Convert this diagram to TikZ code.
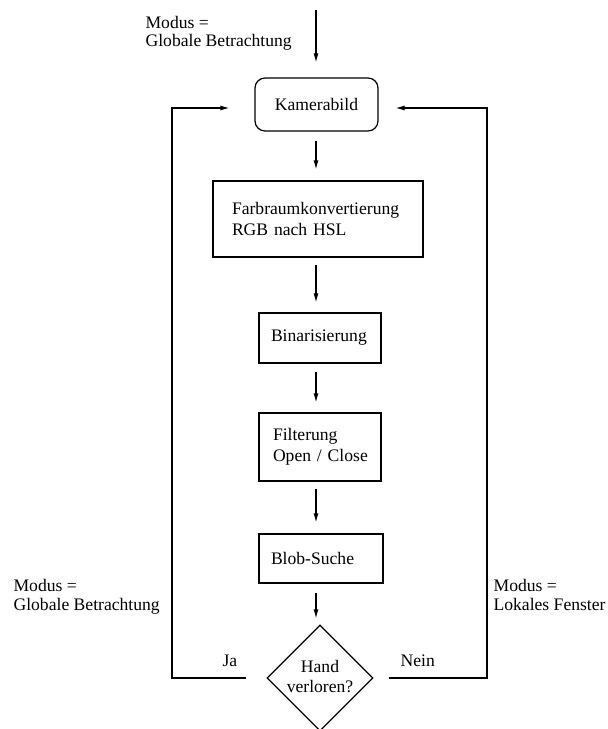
\documentclass[tikz,border=0pt]{standalone}
\usepackage{fontspec}
\setmainfont{Liberation Serif}
\usetikzlibrary{shapes.geometric,arrows.meta}
\begin{document}
\begin{tikzpicture}[x=1pt,y=-1pt,
  font=\fontsize{17.6}{21.5}\selectfont,
  line width=1.2pt,
  arr/.style={-{Latex[length=9pt,width=5pt]}},
  stage/.style={draw,rectangle,inner ysep=0pt,align=left},
  lbl/.style={inner sep=0pt,align=left,font=\fontsize{17.6}{18.5}\selectfont},
  tag/.style={inner sep=0pt,anchor=base west}]
\useasboundingbox (0,0) rectangle (608,729);

% processing chain
\coordinate (src) at (316,10);
\node[stage,rounded corners=10pt,align=center,minimum width=123pt,minimum height=53pt]
  (kam) at (316.5,104.5) {Kamerabild};
\node[stage,minimum width=210pt,minimum height=76pt,inner xsep=19pt,text width=172pt]
  (farb) at (318,219) {Farbraumkonvertierung\\RGB nach HSL};
\node[stage,minimum width=122pt,minimum height=50pt,inner xsep=12pt,text width=98pt]
  (bin) at (320,338) {Binarisierung};
\node[stage,minimum width=122pt,minimum height=68pt,inner xsep=14pt,text width=94pt]
  (filt) at (320,447) {Filterung\\\mbox{Open / Close}};
\node[stage,minimum width=124pt,minimum height=49pt,inner xsep=12pt,text width=100pt]
  (blob) at (321,558.5) {Blob-Suche};
\node[draw,diamond,aspect=1,minimum size=106pt,inner sep=0pt]
  (dia) at (320,678) {\makebox[20pt]{\fontsize{17.6}{20}\selectfont
    \begin{tabular}{@{}c@{}}Hand\\verloren?\end{tabular}}};

% arrows along the chain
\draw[arr,shorten >=15pt] (src) -- (src |- kam.north);
\draw[arr,shorten <=9pt,shorten >=11pt] (kam.south -| src) -- (farb.north -| src);
\draw[arr,shorten <=7pt,shorten >=10pt] (farb.south -| src) -- (bin.north -| src);
\draw[arr,shorten <=8pt,shorten >=10pt] (bin.south -| src) -- (filt.north -| src);
\draw[arr,shorten <=7pt,shorten >=11pt] (filt.south -| src) -- (blob.north -| src);
\draw[arr,shorten <=9pt,shorten >=6pt] (blob.south -| src) -- (dia.north -| src);

% feedback loops
\coordinate (lc) at (172,108);
\coordinate (rc) at (487,108);
\draw[arr,shorten <=20pt,shorten >=25pt] (dia.west) -| (lc) -- (lc -| kam.west);
\draw[arr,shorten <=15pt,shorten >=17pt] (dia.east) -| (rc) -- (rc -| kam.east);

% labels
\node[lbl,anchor=north west] (modtop) at (145,15.5) {Modus =\\Globale Betrachtung};
\node[lbl,anchor=north west] (modl) at (13,578.7) {Modus =\\Globale Betrachtung};
\node[lbl,anchor=north west] (modr) at (493,578.7) {Modus =\\Lokales Fenster};
\node[tag] (ja) at (222,666.7) {Ja};
\node[tag] (nein) at (400,666.7) {Nein};
\end{tikzpicture}
\end{document}
